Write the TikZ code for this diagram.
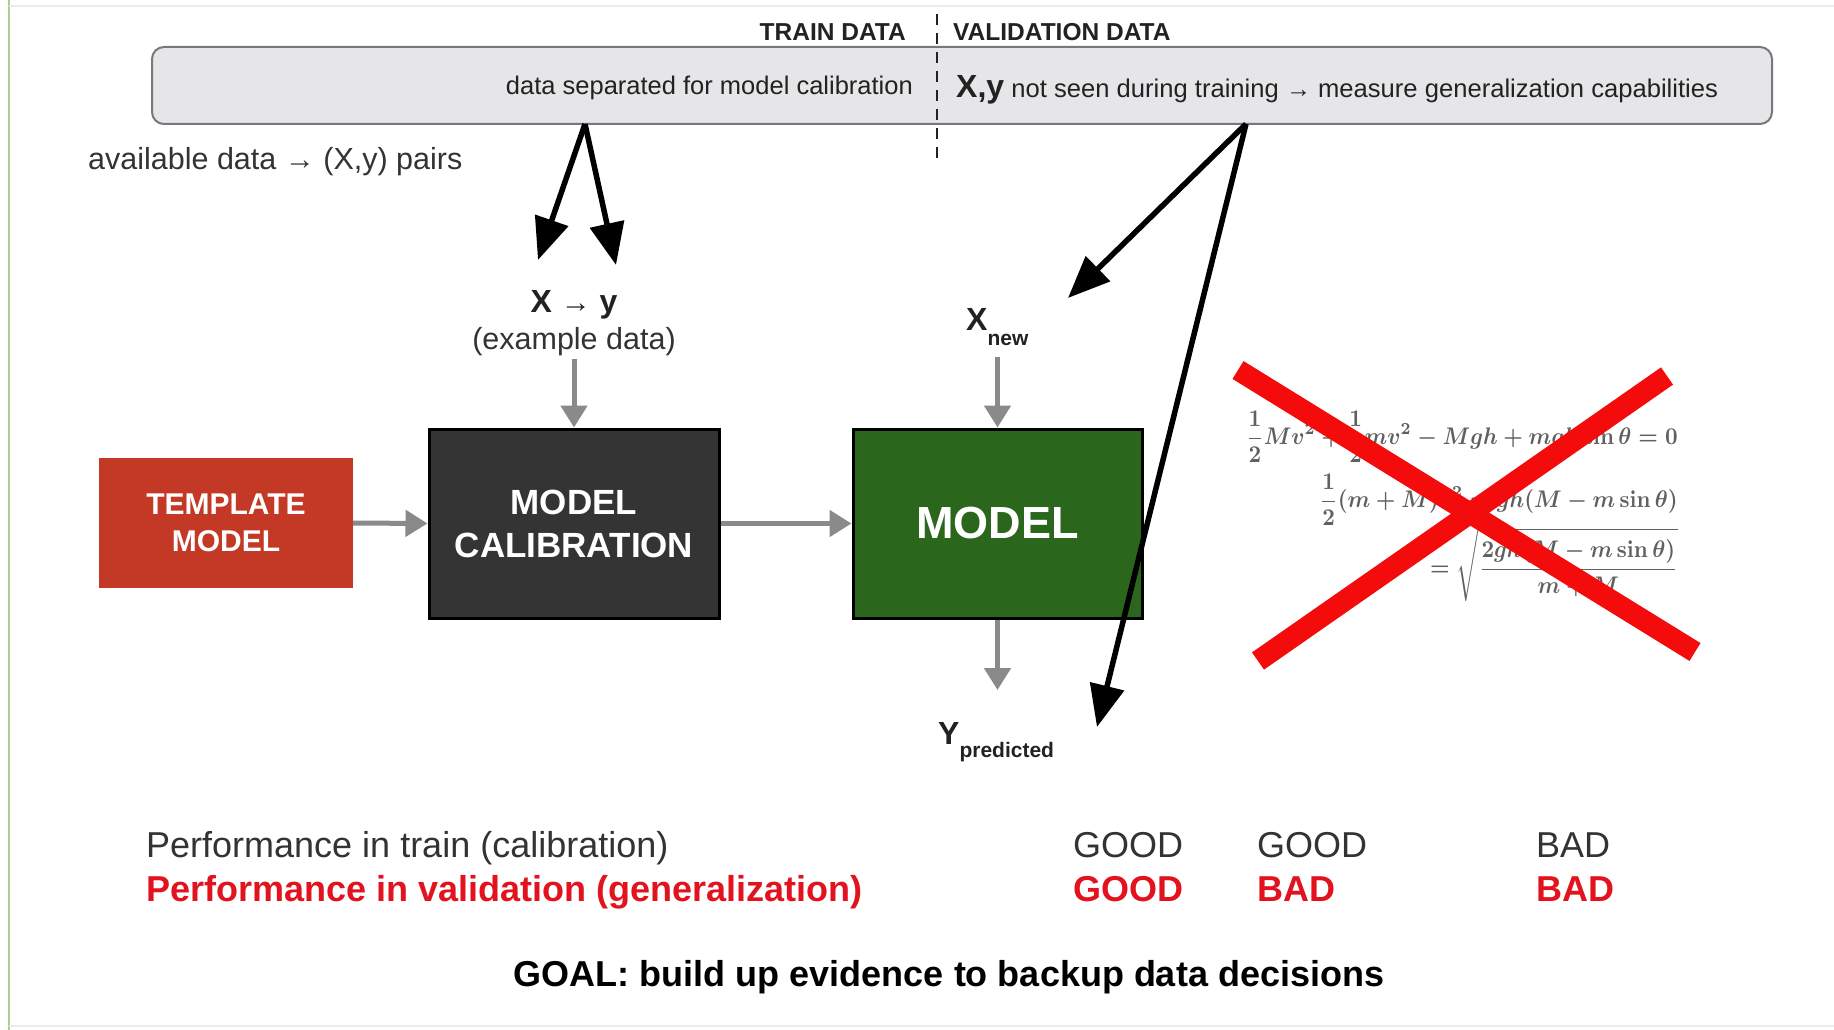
\documentclass[tikz,border=0pt]{standalone}
\usepackage{amsmath}
\usepackage{graphicx}
\usepackage[no-math]{fontspec}
\setmainfont{Liberation Sans}
\usetikzlibrary{arrows.meta}

\definecolor{ink}{RGB}{34,34,34}
\definecolor{softink}{RGB}{51,51,51}
\definecolor{barfill}{RGB}{230,230,232}
\definecolor{barline}{RGB}{120,120,124}
\definecolor{flowgray}{RGB}{138,138,138}
\definecolor{templred}{RGB}{196,57,38}
\definecolor{calibdark}{RGB}{52,52,52}
\definecolor{modelgreen}{RGB}{42,102,28}
\definecolor{alertred}{RGB}{226,18,30}
\definecolor{crossred}{RGB}{244,12,12}
\definecolor{eqgray}{RGB}{96,96,96}
\definecolor{edgegreen}{RGB}{170,205,150}

\newcommand\sz[2]{\fontsize{#1}{#2}\selectfont}
\newcommand\bigmath[1]{\scalebox{2.2}[2.4]{\boldmath$\displaystyle #1$}}
\newcommand\smallarrow[1]{{\mdseries\sz{#1}{#1}→}}

\begin{document}
\begin{tikzpicture}[x=1pt,y=-1pt,
  tx/.style={inner sep=0pt, text=ink},
  blockbox/.style={draw=black, line width=3pt, text=white, font=\bfseries,
    align=center, inner sep=0pt},
  flowarrow/.style={draw=flowgray, line width=5pt,
    -{Triangle[length=22pt,width=26pt]}},
  dataarrow/.style={draw=black, line width=5.5pt,
    -{Triangle[length=42pt,width=34pt]}},
  crossbar/.style={draw=crossred, line width=21pt}]

  % canvas
  \useasboundingbox (0,0) rectangle (1834,1030);
  \fill[white] (0,0) rectangle (1834,1030);
  \draw[edgegreen, line width=2pt] (9,0) -- (9,1030);
  \draw[black!8, line width=2pt] (9,6) -- (1834,6);
  \draw[black!8, line width=2pt] (9,1026) -- (1834,1026);

  % data split bar
  \node[draw=barline, fill=barfill, line width=2pt, rounded corners=12pt,
        minimum width=1620pt, minimum height=77pt, inner sep=0pt]
        (bar) at (962,85.5) {};
  \draw[ink, line width=2pt, dash pattern=on 11pt off 8pt] (937,14) -- (937,161);

  \node[tx, anchor=base east, font=\bfseries\sz{24.5}{28}] (traintitle) at (906,41) {TRAIN DATA};
  \node[tx, anchor=base west, font=\bfseries\sz{24.5}{28}] (valtitle) at (953,41) {VALIDATION DATA};
  \node[tx, anchor=base east, font=\sz{25.5}{30}] (trainnote) at (913,95)
       {data separated for model calibration};
  \node[tx, anchor=base west, font=\sz{25.6}{30}] (valnote) at (956,98)
       {{\bfseries\sz{32}{36}X,y} not seen during training \smallarrow{25} measure generalization capabilities};

  \node[tx, anchor=base west, font=\sz{30.5}{36}, text=softink] (avail) at (88,170)
       {available data \smallarrow{30} (X,y) pairs};

  % inputs for calibration
  \node[tx, anchor=base, font=\bfseries\sz{32}{38}] (xy) at (574,312) {X \smallarrow{30} y};
  \node[tx, anchor=base, font=\sz{30.5}{36}, text=softink] (example) at (574,349) {(example data)};

  % blocks
  \node[fill=templred, text=white, font=\bfseries\sz{30}{37}, align=center,
        minimum width=254pt, minimum height=130pt, inner sep=0pt]
        (template) at (226,523) {TEMPLATE\\MODEL};
  \node[blockbox, fill=calibdark, font=\bfseries\sz{35}{43},
        minimum width=290pt, minimum height=189pt]
        (calib) at (574,523.5) {MODEL\\CALIBRATION};
  \node[blockbox, fill=modelgreen, font=\bfseries\sz{45}{50},
        minimum width=289pt, minimum height=189pt]
        (model) at (997.5,523.5) {MODEL};

  % new input and prediction
  \node[tx, anchor=base west, font=\bfseries\sz{32}{38}] (xnew) at (966,330)
       {X\raisebox{-15pt}{\sz{21}{24}new}};
  \node[tx, anchor=base west, font=\bfseries\sz{32}{38}] (ypred) at (938,744)
       {Y\raisebox{-13pt}{\sz{21}{24}predicted}};

  % gray flow
  \draw[flowarrow] (example.south |- 0,359) -- (calib.north);
  \draw[flowarrow] (template.east) -- (calib.west);
  \draw[flowarrow] (calib.east) -- (model.west);
  \draw[flowarrow] (model.north |- 0,357) -- (model.north);
  \draw[flowarrow] (model.south) -- (model.south |- 0,690);

  % data routing from the bar
  \coordinate (trainsrc) at (585,124);
  \coordinate (valsrc) at (1246,124);
  \coordinate (toX) at (538,260);
  \coordinate (toY) at (616,265);
  \coordinate (toXnew) at (1068,298);
  \coordinate (toYpred) at (1097,727);
  \draw[dataarrow] (trainsrc) -- (toX);
  \draw[dataarrow] (trainsrc) -- (toY);
  \draw[dataarrow] (valsrc) -- (toXnew);
  \draw[dataarrow] (valsrc) -- (toYpred);

  % analytic model, crossed out
  \node[tx, anchor=east, text=eqgray] (eqa) at (1678,437)
       {\bigmath{\frac12 Mv^2+\frac12 mv^2-Mgh+mgh\sin\theta=0}};
  \node[tx, anchor=east, text=eqgray] (eqb) at (1678,500)
       {\bigmath{\frac12(m+M)v^2=gh(M-m\sin\theta)}};
  \node[tx, anchor=east, text=eqgray] (eqc) at (1678,565)
       {\bigmath{=\sqrt{\frac{2gh(M-m\sin\theta)}{m+M}}}};
  \coordinate (crossA1) at (1238,370);
  \coordinate (crossA2) at (1695,652);
  \coordinate (crossB1) at (1667,376);
  \coordinate (crossB2) at (1258,661);
  \draw[crossbar] (crossA1) -- (crossA2);
  \draw[crossbar] (crossB1) -- (crossB2);

  % performance table
  \node[tx, anchor=base west, font=\sz{36}{42}, text=softink] (perftrain) at (146,857)
       {Performance in train (calibration)};
  \node[tx, anchor=base west, font=\bfseries\sz{36}{42}, text=alertred] (perfval) at (146,901)
       {Performance in validation (generalization)};
  \node[tx, anchor=base west, font=\sz{36}{42}, text=softink] (trainA) at (1073,857) {GOOD};
  \node[tx, anchor=base west, font=\sz{36}{42}, text=softink] (trainB) at (1257,857) {GOOD};
  \node[tx, anchor=base west, font=\sz{36}{42}, text=softink] (trainC) at (1536,857) {BAD};
  \node[tx, anchor=base west, font=\bfseries\sz{36}{42}, text=alertred] (valA) at (1073,901) {GOOD};
  \node[tx, anchor=base west, font=\bfseries\sz{36}{42}, text=alertred] (valB) at (1257,901) {BAD};
  \node[tx, anchor=base west, font=\bfseries\sz{36}{42}, text=alertred] (valC) at (1536,901) {BAD};

  \node[tx, anchor=base, font=\bfseries\sz{36}{42}, text=black] (goal) at (949,986)
       {GOAL: build up evidence to backup data decisions};
\end{tikzpicture}
\end{document}
